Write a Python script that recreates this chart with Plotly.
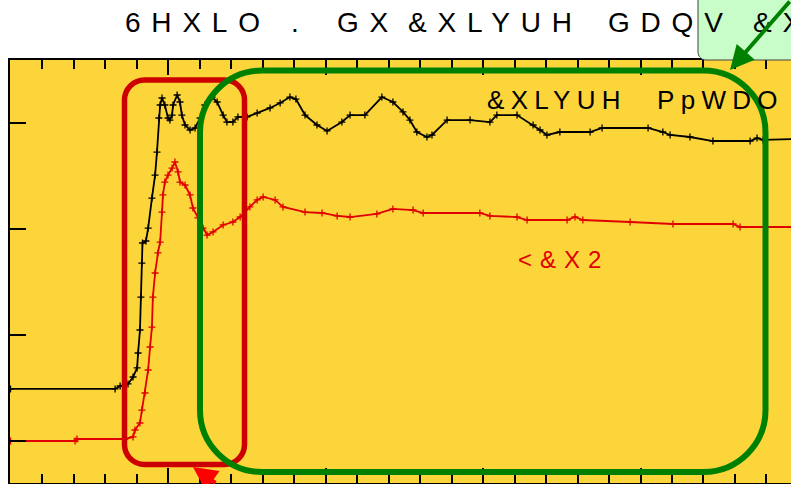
import html
import plotly.graph_objects as go

# ---------------- data (energy in eV, normalised absorbance) ----------------
E_METAL = [8950, 8983.2, 8984.8, 8987.3, 8988.9, 8990.2, 8990.5, 8991.1, 8991.4, 8991.7,
           8991.9, 8993.0, 8993.7, 8994.9, 8995.9, 8996.5, 8997.1, 8997.5, 8998.1, 8999.0,
           9000.0, 9000.6, 9001.3, 9001.6, 9002.9, 9003.8, 9004.4, 9005.4, 9007.0, 9008.6,
           9010.2, 9011.7, 9014.0, 9015.6, 9017.5, 9018.7, 9020.6, 9022.2, 9025.1, 9028.3,
           9032.4, 9035.6, 9038.7, 9040.6, 9043.5, 9047.3, 9050.5, 9055.2, 9057.8, 9062.5,
           9067.9, 9071.4, 9074.6, 9076.8, 9079.0, 9082.2, 9083.8, 9088.6, 9095.9, 9102.2,
           9104.4, 9110.8, 9115.9, 9118.1, 9120.3, 9124.4, 9134.0, 9137.8, 9152.4, 9157.1,
           9159.4, 9165.7, 9173.0, 9184.8, 9187.0, 9188.9, 9200]
A_METAL = [0.491, 0.491, 0.519, 0.538, 0.604, 0.689, 0.830, 1.047, 1.358, 1.679,
           1.868, 1.887, 2.009, 2.292, 2.509, 2.726, 3.047, 3.170, 3.236, 3.170,
           3.047, 3.028, 3.075, 3.170, 3.264, 3.198, 3.075, 2.981, 2.934, 2.953,
           3.047, 3.170, 3.245, 3.198, 3.075, 3.009, 3.009, 3.057, 3.057, 3.094,
           3.142, 3.189, 3.245, 3.226, 3.075, 2.981, 2.925, 3.009, 3.075, 3.075,
           3.245, 3.198, 3.104, 3.028, 2.915, 2.868, 2.887, 3.028, 3.028, 3.009,
           3.075, 3.075, 2.981, 2.934, 2.887, 2.915, 2.915, 2.953, 2.953, 2.915,
           2.887, 2.868, 2.830, 2.830, 2.858, 2.840, 2.849]

E_OXIDE = [8950, 8970.5, 8971.1, 8986.3, 8988.9, 8989.5, 8991.1, 8991.7, 8992.7, 8993.7,
           8994.3, 8994.9, 8995.2, 8995.9, 8996.8, 8997.5, 8998.1, 8998.4, 8999.0, 9000.0,
           9001.3, 9002.2, 9003.2, 9003.8, 9005.4, 9007.0, 9007.9, 9009.5, 9011.1, 9012.4,
           9014.3, 9017.5, 9020.6, 9022.9, 9026.0, 9028.3, 9030.2, 9034.0, 9036.5, 9043.5,
           9048.9, 9053.7, 9057.8, 9066.3, 9071.4, 9077.8, 9081.0, 9099.0, 9102.2, 9110.8,
           9114.0, 9126.7, 9129.2, 9131.7, 9146.7, 9160.3, 9179.4, 9181.6, 9200]
A_OXIDE = [0.0, 0.0, 0.019, 0.019, 0.038, 0.104, 0.170, 0.292, 0.453, 0.670,
           0.887, 1.075, 1.358, 1.585, 1.774, 1.877, 2.160, 2.321, 2.443, 2.509,
           2.575, 2.632, 2.538, 2.443, 2.415, 2.321, 2.198, 2.104, 2.009, 1.943,
           1.972, 2.038, 2.066, 2.113, 2.208, 2.274, 2.302, 2.274, 2.208, 2.160,
           2.151, 2.123, 2.113, 2.142, 2.189, 2.179, 2.151, 2.151, 2.123, 2.113,
           2.085, 2.085, 2.113, 2.085, 2.066, 2.047, 2.047, 2.019, 2.019]

TITLE_WORDS = ["6HXLO", ".", "GX", "&XLYUH", "GDQV", "&X"]
LABEL_METAL_WORDS = ["&XLYUH", "PpWDO"]
LABEL_OXIDE = "<&X2"

X_RANGE = [8949.84, 9197.78]
Y_RANGE = [-0.3962, 3.5943]
X_MAJOR = 50
X_MINOR = 10
Y_MAJOR = 1

# ---------------- layout geometry (pixels) ----------------
W, H = 791, 484
ML, MR, MT, MB = 10, 0, 60, 1
PW, PH = W - ML - MR, H - MT - MB

TITLE_WORD_X = [124, 290, 335.5, 407, 606.5, 752]
LABEL_METAL_X = [486, 656]

FONT = "Arial, 'Liberation Sans', Helvetica, sans-serif"
YELLOW = "#FCD53B"
GREEN = "#008000"
DARKRED = "#CC0000"


def fx(px):
    return (px - ML) / PW


def fy(py):
    return (H - MB - py) / PH


def P(px, py):
    return f"{fx(px):.5f},{fy(py):.5f}"


def rrect(x0, y0, x1, y1, r):
    k = 0.5523 * r
    return (f"M{P(x0 + r, y0)} L{P(x1 - r, y0)} "
            f"C{P(x1 - r + k, y0)} {P(x1, y0 + r - k)} {P(x1, y0 + r)} "
            f"L{P(x1, y1 - r)} "
            f"C{P(x1, y1 - r + k)} {P(x1 - r + k, y1)} {P(x1 - r, y1)} "
            f"L{P(x0 + r, y1)} "
            f"C{P(x0 + r - k, y1)} {P(x0, y1 - r + k)} {P(x0, y1 - r)} "
            f"L{P(x0, y0 + r)} "
            f"C{P(x0, y0 + r - k)} {P(x0 + r - k, y0)} {P(x0 + r, y0)} Z")


def spaced(text, sp):
    return f'<span style="letter-spacing:{sp}px">{html.escape(text, quote=False)}</span>'


fig = go.Figure()

fig.add_trace(go.Scatter(
    x=E_METAL, y=A_METAL, mode="lines+markers",
    line=dict(color="black", width=1.8),
    marker=dict(symbol="cross-thin", size=5, line=dict(color="black", width=1.3)),
    showlegend=False, hoverinfo="skip"))

fig.add_trace(go.Scatter(
    x=E_OXIDE, y=A_OXIDE, mode="lines+markers",
    line=dict(color="#E00000", width=1.8),
    marker=dict(symbol="cross-thin", size=5, line=dict(color="#E00000", width=1.3)),
    showlegend=False, hoverinfo="skip"))

shapes = [
    # callout box top right
    dict(type="path", xref="paper", yref="paper", layer="above",
         path=(f"M{P(698, -10)} L{P(698, 52)} C{P(698, 56.4)} {P(701.6, 60)} {P(706, 60)} "
               f"L{P(810, 60)} L{P(810, -10)} Z"),
         fillcolor="#C8FCC8", line=dict(color="#444444", width=1)),
    # red rounded box (edge region)
    dict(type="path", xref="paper", yref="paper", layer="above",
         path=rrect(124.5, 80, 244.5, 464.5, 20),
         line=dict(color=DARKRED, width=5.5)),
    # green rounded box (EXAFS region)
    dict(type="path", xref="paper", yref="paper", layer="above",
         path=rrect(200, 70.5, 765.5, 472, 62),
         line=dict(color=GREEN, width=6)),
]

annotations = []
for word, wx in zip(TITLE_WORDS, TITLE_WORD_X):
    annotations.append(dict(
        xref="paper", yref="paper", x=fx(wx), y=fy(22), xanchor="left", yanchor="middle",
        text=spaced(word, 10.8), showarrow=False, borderpad=0,
        font=dict(family=FONT, size=28, color="black")))
for word, wx in zip(LABEL_METAL_WORDS, LABEL_METAL_X):
    annotations.append(dict(
        xref="paper", yref="paper", x=fx(wx), y=fy(100), xanchor="left", yanchor="middle",
        text=spaced(word, 6.3), showarrow=False, borderpad=0,
        font=dict(family=FONT, size=26, color="black")))
annotations += [
    dict(xref="paper", yref="paper", x=fx(517), y=fy(259.5), xanchor="left", yanchor="middle",
         text=spaced(LABEL_OXIDE, 8), showarrow=False, borderpad=0,
         font=dict(family=FONT, size=24, color="#E00000")),
    # green arrow
    dict(xref="paper", yref="paper", x=fx(730), y=fy(70), text="", showarrow=True,
         ax=72, ay=-84, arrowcolor=GREEN, arrowwidth=4, arrowhead=2, arrowsize=1.2,
         standoff=0),
    # red arrow
    dict(xref="paper", yref="paper", x=fx(193), y=fy(467), text="", showarrow=True,
         ax=24, ay=30, arrowcolor="#FF0000", arrowwidth=4, arrowhead=2, arrowsize=1.2,
         standoff=0),
]

fig.update_layout(
    width=W, height=H,
    margin=dict(l=ML, r=MR, t=MT, b=MB, pad=0),
    paper_bgcolor="white", plot_bgcolor=YELLOW,
    shapes=shapes, annotations=annotations,
    xaxis=dict(range=X_RANGE, showgrid=False, zeroline=False, showticklabels=False,
               showline=True, linecolor="black", linewidth=2, mirror="ticks",
               ticks="inside", tick0=8950, dtick=X_MAJOR, ticklen=15, tickwidth=2,
               tickcolor="black",
               minor=dict(ticks="inside", dtick=X_MINOR, ticklen=9, tickwidth=2,
                          tickcolor="black", showgrid=False)),
    yaxis=dict(range=Y_RANGE, showgrid=False, zeroline=False, showticklabels=False,
               showline=True, linecolor="black", linewidth=2,
               ticks="inside", tick0=0, dtick=Y_MAJOR, ticklen=16, tickwidth=2,
               tickcolor="black"),
    yaxis2=dict(range=Y_RANGE, overlaying="y", side="right", anchor="x",
                showgrid=False, zeroline=False, showticklabels=False, showline=False,
                ticks="inside", tick0=0, dtick=Y_MAJOR, ticklen=9, tickwidth=2,
                tickcolor="black"),
)

fig.write_html("out.html", config={"displayModeBar": False},
               post_script="document.body.style.margin='0';document.body.style.overflow='hidden';")
